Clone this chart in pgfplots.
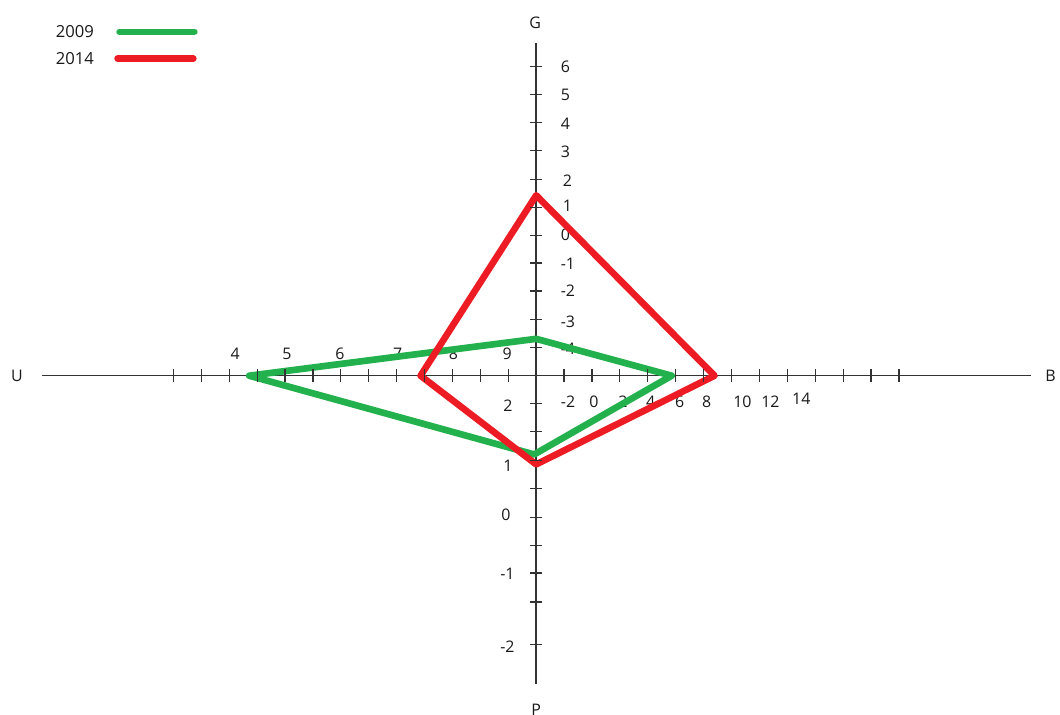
\documentclass[border=0pt]{standalone}
\usepackage{fontspec}
\setmainfont{Open Sans}
\usepackage{pgfplots}
\pgfplotsset{compat=1.18}
\definecolor{pgreen}{RGB}{34,177,76}
\definecolor{pred}{RGB}{237,28,36}
% one axis unit = one pixel of the reference, origin where the four axes meet
\begin{document}
\begin{tikzpicture}[lbl/.style={font=\fontsize{12}{14}\selectfont, text=black!90}]
\begin{axis}[
    scale only axis,
    width=795pt, height=537.75pt,
    xmin=-538, xmax=522, ymin=-340, ymax=377,
    hide axis, clip=false,
]
\path (rel axis cs:0,0) rectangle (rel axis cs:1,1);
% axes
\addplot[black!80, line width=1.1pt] coordinates {(-496,0) (497,0)};
\addplot[black!80, line width=1.1pt] coordinates {(0,334) (0,-309)};
% ticks
\addplot[only marks, mark=|, mark size=4.8pt, mark options={line width=0.9pt, black!80}] coordinates {
  (-364,0) (-336,0) (-308,0) (-280,0) (-252,0) (-224,0) (-196,0) (-168,0) (-140,0) (-112,0) (-84,0) (-56,0) (-28,0)
  (28,0) (56,0) (84,0) (112,0) (140,0) (168,0) (196,0) (224,0) (252,0) (280,0) (308,0) (336,0) (364,0)};
\addplot[only marks, mark=-, mark size=4.5pt, mark options={line width=0.9pt, black!80}] coordinates {
  (0,28) (0,56) (0,85) (0,113) (0,141) (0,169) (0,197) (0,226) (0,254) (0,282) (0,310)
  (0,-28) (0,-56) (0,-85) (0,-113) (0,-142) (0,-170) (0,-198) (0,-227) (0,-270)};
% axis names
\node[lbl] at (axis cs:-1,354) {G};
\node[lbl] at (axis cs:-521,0) {U};
\node[lbl] at (axis cs:516,0) {B};
\node[lbl, overlay] at (axis cs:0,-335) {P};
% G scale
\node[lbl, anchor=west] at (axis cs:20,310) {6};
\node[lbl, anchor=west] at (axis cs:20,282) {5};
\node[lbl, anchor=west] at (axis cs:20,253) {4};
\node[lbl, anchor=west] at (axis cs:20,225) {3};
\node[lbl, anchor=west] at (axis cs:22,196) {2};
\node[lbl, anchor=west] at (axis cs:22,170) {1};
\node[lbl, anchor=west] at (axis cs:20,141) {0};
\node[lbl, anchor=west] at (axis cs:20,112) {-1};
\node[lbl, anchor=west] at (axis cs:20,85) {-2};
\node[lbl, anchor=west] at (axis cs:20,54) {-3};
\node[lbl, anchor=west] at (axis cs:20,27) {-4};
% P scale
\node[lbl, anchor=east] at (axis cs:-19,-30) {2};
\node[lbl, anchor=east] at (axis cs:-19,-90) {1};
\node[lbl, anchor=east] at (axis cs:-21,-140) {0};
\node[lbl, anchor=east] at (axis cs:-17,-199) {-1};
\node[lbl, anchor=east] at (axis cs:-17,-272) {-2};
% U scale
\node[lbl] at (axis cs:-302,22) {4};
\node[lbl] at (axis cs:-250,22) {5};
\node[lbl] at (axis cs:-197,22) {6};
\node[lbl] at (axis cs:-139,22) {7};
\node[lbl] at (axis cs:-83,22) {8};
\node[lbl] at (axis cs:-29,22) {9};
% B scale
\node[lbl] at (axis cs:32,-26) {-2};
\node[lbl] at (axis cs:58,-26) {0};
\node[lbl] at (axis cs:87,-26) {2};
\node[lbl] at (axis cs:115,-26) {4};
\node[lbl] at (axis cs:144,-26) {6};
\node[lbl] at (axis cs:171,-26) {8};
\node[lbl] at (axis cs:207,-26) {10};
\node[lbl] at (axis cs:235,-26) {12};
\node[lbl] at (axis cs:266,-23) {14};
% data polygons (U, G, B, P vertices)
\addplot[pgreen, line width=5pt, line join=round] coordinates {(-288,0) (0,37) (136,0) (-2,-79)} -- cycle;
\addplot[pred, line width=5pt, line join=round] coordinates {(-116,0) (0,181) (179,0) (0,-89)} -- cycle;
% legend
\node[lbl, anchor=east, font=\fontsize{12.5}{14}\selectfont] at (axis cs:-439,345) {2009};
\node[lbl, anchor=east, font=\fontsize{12.5}{14}\selectfont] at (axis cs:-439,318) {2014};
\addplot[pgreen, line width=5pt, line cap=round] coordinates {(-418,345) (-343,345)};
\addplot[pred, line width=5pt, line cap=round] coordinates {(-420,318) (-344,318)};
\end{axis}
\end{tikzpicture}
\end{document}
